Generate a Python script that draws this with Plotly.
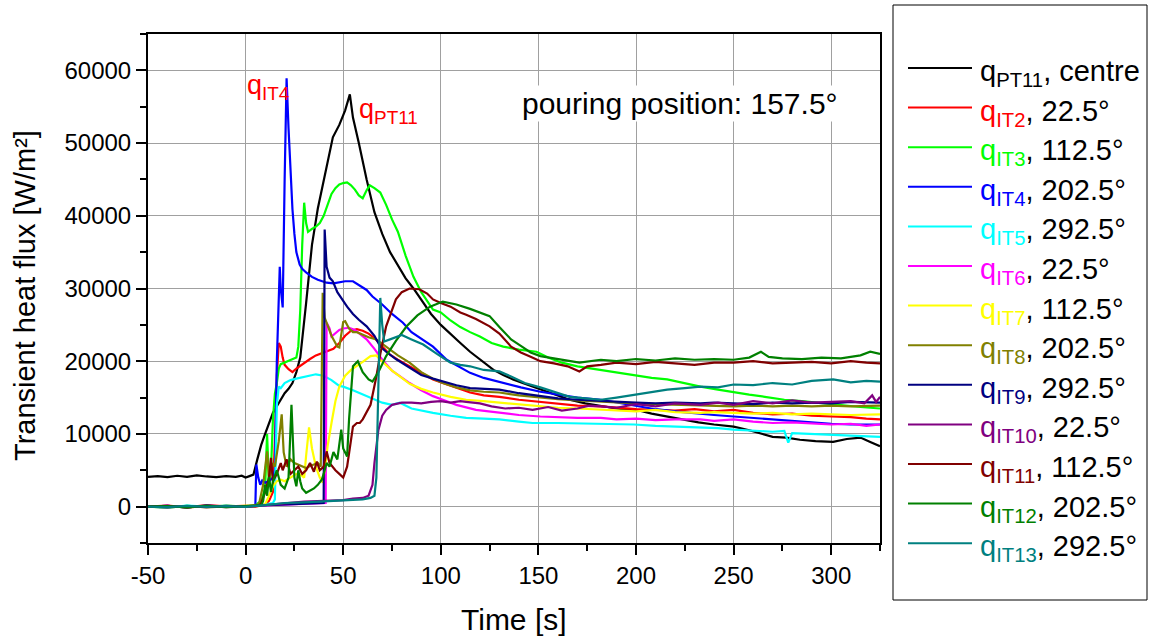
import plotly.graph_objects as go

# ---------------- data ----------------
t_pt11 = [-50,-45,-40,-35,-30,-25,-20,-15,-10,-5,-2,0,2,4,6,8,10,12,14,16,18,20,22,24,26,28,31,34,37,40,44.7,48,51,53.4,55,58,62,66,70,74,78,82,86,90,95,100,105,110,115,120,127,132,137,143,151,158,166,174,182,190,197,202,208,216,224,232,240,250,258,264,270,277,284,292,301,308,315,320,325]
q_pt11 = [4100,4200,4050,4250,4100,4300,4150,4050,4200,4100,4250,4000,4200,4400,6500,8500,10000,11500,12900,13800,14800,15600,16200,17000,18500,20500,28000,36000,41000,45000,50800,52500,54500,56700,53500,50000,45000,40500,37500,35000,33200,31400,30000,28400,26500,25000,23700,22500,21300,20300,18800,18100,17500,16900,16100,15400,14700,14200,13800,13500,13300,13200,12800,12400,11900,11600,11300,11000,10500,10000,9600,9500,9200,9000,8900,9300,9500,8900,8300]

t_it2 = [-50,-40,-30,-20,-10,0,5,10,12,14,15,16,17,18,19,20,22,24,26,28,30,33,36,38,41,45,48,51,54,57,60,63,66,70,74,78,84,90,96,101,108,115,122,130,140,151,160,170,182,190,200,210,220,230,240,250,260,270,280,290,300,310,318,325]
q_it2 = [0,150,-100,200,50,100,0,300,800,2000,9000,18000,22500,22000,20500,19500,18900,18500,19000,19400,19700,20300,20800,21000,21300,21700,22500,23500,24200,24400,24200,23800,23200,22000,20900,20200,19300,18300,17500,17000,16300,15700,15300,15100,14700,14400,14100,13900,13800,13600,13400,13300,13200,13400,13100,13300,12900,12700,12800,12500,12400,12300,12100,12000]

t_it3 = [-50,-40,-30,-20,-10,0,5,8,10,11,12,13,14,15,16,17,18,20,22,24,26,27,28,29,30,31,32,34,36,38,40,42,44,46,48,50,52,54,56,58,60,62,63.6,66,69,72,75,78,82,86,90,96,100,105,110,115,120,126,132,140,149,155,162,170,182,190,200,208,216,224,233,242,250,258,266,276,285,295,305,315,325]
q_it3 = [0,-150,100,-50,150,0,200,800,2500,10000,3000,5000,12000,15500,17000,19000,19600,19800,20000,20300,20500,22000,27000,36000,41800,39000,37800,38200,38500,39000,40000,41500,43000,43800,44300,44500,44600,44200,43600,42800,42400,43500,44200,43800,43200,41500,39500,37800,34500,31600,29500,27100,26700,25600,24700,24000,23400,22500,22000,21600,21300,20500,19800,19300,18800,18400,18000,17700,17500,17000,16500,16100,15700,15400,15100,14700,14500,14200,14000,13700,13500]

t_it4 = [-50,-40,-30,-20,-10,0,4,5,5.5,6.5,7.5,8.5,10,12,14,15,16,17,17.5,18,19,20,21,22,23,24,25,26,27.7,29,31,34,37,41.5,45,48,51,55,58,62,65,70,75,80.6,85,89,96,103,109,115,122,132,141,151,160,170,182,190,200,210,220,230,240,250,260,270,280,290,300,310,325]
q_it4 = [0,100,-100,150,0,-50,100,200,5800,4000,3000,3600,3300,3500,4000,5000,20000,28000,33000,30000,27400,45000,58900,52000,46000,40900,37500,35000,33300,32700,32200,31600,31200,30800,30700,30900,31000,31000,30500,29800,28900,27800,26500,25300,24000,23300,22000,20200,19300,18400,17700,17000,16400,15800,15400,15000,14700,14300,13800,13400,13100,12800,12600,12400,12200,11900,11700,11500,11400,11300,11300]

t_it5 = [-50,-40,-30,-20,-10,0,8,14,15,16,17,18,20,23,26,28,31,36,40,44,48,50,55,60,65,70,75,79,85,90,96,105,113,122,130,140,147,160,175,190,199,210,220,233,242,250,260,270,276,278,280,290,301,312,325]
q_it5 = [0,-100,150,0,100,-50,200,500,1000,14000,16500,16300,17000,17400,17600,17700,17900,18200,18000,17400,16600,16500,16000,15400,14900,14300,14000,14300,13500,13200,12900,12500,12200,12100,12000,11700,11500,11500,11400,11300,11300,11100,11000,10900,10800,10600,10500,10300,10400,8800,10100,10000,9900,9800,9600]

t_it6 = [-50,-40,-30,-20,-10,0,10,20,30,40,41,41.5,43,44,46,48,50,53,56,59,62,66,70,75,80,84,90,96,101,108,118,130,140,151,160,170,182,190,200,210,220,233,240,250,260,270,280,290,300,310,318,325]
q_it6 = [0,120,-80,100,-50,50,150,300,400,500,500,25300,24500,23400,23800,24300,24500,24600,24300,23700,23000,21700,20200,18700,17700,17000,16000,15200,14700,14000,13300,12900,12600,12400,12300,12200,12200,12000,12100,11900,12000,12000,11800,12000,11700,11500,11600,11400,11300,11400,11100,11300]

t_it7 = [-50,-40,-30,-20,-10,0,10,12,14,16,18,20,22,24,26,28,30,31,32.5,34,36,38,39.5,41,42,44,46,48,51,54,57,60,64,67,69,72,75,79,84,90,96,105,113,122,130,140,150,160,170,182,190,200,210,220,233,240,250,260,270,280,290,300,310,325]
q_it7 = [0,80,-120,60,-40,100,300,1500,2800,3500,3700,3500,3800,4200,4500,4400,4000,7000,10900,8000,5500,4000,3300,6000,8300,11500,14500,16500,18000,18800,19300,19900,20700,20800,20200,19400,18700,17900,16900,16200,15700,15100,14700,14500,14300,14000,13800,13600,13500,13300,13200,13100,13300,13000,12900,13000,12900,12800,12900,12700,12800,12700,12600,12700]

t_it8 = [-50,-40,-30,-20,-10,0,6,7,9,11,12,13,14,15,16,17,18.5,19.5,21,23,25,27,29,31,33,35,37,38.5,39.5,40.5,42,44,47,48,50,51,53,55,57,60,63,67,72,78,84,90,96,101,108,115,122,130,140,150,160,170,182,190,200,210,220,233,240,250,260,270,280,290,300,310,325]
q_it8 = [0,-60,90,-110,40,0,200,500,3000,7600,4000,5000,6000,5500,7000,9000,12700,7500,5500,6500,6000,5800,5500,5300,5600,5800,6000,5500,29400,26000,25000,23500,22000,21900,25400,25500,24500,24000,24000,23600,23300,23000,22000,20800,19800,18500,17600,17000,16400,16000,15800,15700,15300,15000,14800,14600,14400,14300,14200,14100,14000,13900,13800,13800,13900,13800,13900,13800,13900,13800,13900]

t_it9 = [-50,-40,-30,-20,-10,0,10,20,30,40,40.5,41.5,43,44.7,47,50,52,55,58,62,66,69,72,77,84,90,96,101,108,115,122,130,140,150,160,170,182,190,200,210,220,233,240,250,260,270,280,290,300,310,325]
q_it9 = [0,70,-90,120,-30,60,150,250,350,500,38100,33000,31500,31000,29500,28200,27500,26500,25700,24800,23500,22000,21300,20300,19100,18100,17600,17200,16700,16300,16200,16100,15600,15200,14900,14700,14500,14400,14300,14200,14300,14200,14300,14200,14100,14300,14200,14300,14200,14400,14300]

t_it10 = [-50,-40,-30,-20,-10,0,10,20,30,40,50,55,60,63,65,66,67,68,70,72,75,80,85,90,95,100,105,110,113,120,126,133,140,147,155,162,170,176,182,190,200,210,220,233,242,250,260,270,280,290,300,310,317,321,323,325]
q_it10 = [0,-90,60,-70,100,0,200,500,700,800,900,1100,1200,1500,3000,6000,8500,10500,12500,13300,14000,14300,14300,14200,14400,14500,14300,14500,14400,14200,13800,13500,13600,13300,13700,13200,13500,13900,13800,13600,14100,13800,14200,14000,14300,14000,14500,14200,14600,14300,14400,14500,14200,15300,14400,15100]

t_it11 = [-50,-40,-30,-20,-10,0,7,8,10,12,13,14,16,18,19,21,23,25,27,29,31,33,35,36.5,38,40,41.5,43,46,48,50,52,54,55,57,58.5,60,62,64,67,69,72,75,77,80,84,89,93,96,100,105,110,113,118,125,130,136,141,146,151,158,165,171,175,182,190,200,210,220,230,240,250,260,270,280,290,300,310,318,325]
q_it11 = [0,100,-120,80,-60,40,100,500,2000,4000,6700,3500,4500,6000,5000,6500,4500,5000,5500,4500,5000,6000,4800,6200,5000,5500,7600,6000,5000,4500,4000,5500,9500,11000,11500,11500,12000,12900,14000,17900,21000,24800,27000,28500,29500,30000,29900,29300,28500,28000,27500,26700,26400,25800,24800,23800,22000,21200,20600,20000,19700,19300,18600,19300,19500,19800,19600,19900,19700,19500,19800,19800,20000,19700,19800,19900,19700,20000,19800,19700]

t_it12 = [-50,-40,-30,-20,-10,0,8,9,10,11,12,13,14,16,18,20,22,23.5,25,26,27,28,29,31,33,35,37,39,40,41.5,43,45,47,49,50,52,53,55,57.5,60,63,65,68,72,77,82.5,88,94.5,101,108,115,120,125,130,136,141,146,151,160,171,182,190,200,210,220,230,240,250,258,264,268,275,285,295,305,315,320,325]
q_it12 = [0,60,-100,130,-80,20,200,800,3000,1500,4100,2000,3500,5000,3000,2500,4000,14000,4000,2800,5000,3500,2500,1900,2200,2500,3000,3700,4500,6000,5500,7500,6500,10600,8000,6900,12000,19300,20000,18500,17500,17200,18500,20700,22800,24800,26300,27500,28200,27800,27200,26700,26200,24700,23000,22100,21200,20700,20300,19800,20200,20000,20300,20100,20400,20200,20300,20200,20500,21300,20600,20400,20300,20500,20400,20800,21300,21000]

t_it13 = [-50,-40,-30,-20,-10,0,10,20,30,40,50,55,60,64,66,67,68,69,70,71,74,77.5,80,85,91,98,105,110,115,122,130,136,143,151,158,166,174,182,190,199,208,216,225,233,242,250,260,270,280,290,301,310,318,325]
q_it13 = [0,-70,110,-40,80,-20,200,500,600,700,800,900,1000,1200,1500,4000,15000,28700,25000,22700,23000,23400,23600,23000,22300,21000,19800,19500,19300,18800,18600,17900,17000,16400,15800,15100,14900,14700,15000,15400,15700,16100,16300,16500,16400,16800,16700,17000,16800,17300,17500,17100,17300,17200]

series_names = ["PT11","IT2","IT3","IT4","IT5","IT6","IT7","IT8","IT9","IT10","IT11","IT12","IT13"]
series_pos = ["centre","22.5°","112.5°","202.5°","292.5°","22.5°","112.5°","202.5°","292.5°","22.5°","112.5°","202.5°","292.5°"]
series_t = [t_pt11,t_it2,t_it3,t_it4,t_it5,t_it6,t_it7,t_it8,t_it9,t_it10,t_it11,t_it12,t_it13]
series_q = [q_pt11,q_it2,q_it3,q_it4,q_it5,q_it6,q_it7,q_it8,q_it9,q_it10,q_it11,q_it12,q_it13]
colors = ["#000000","#FF0000","#00FF00","#0000FF","#00FFFF","#FF00FF","#FFFF00",
          "#808000","#000080","#800080","#800000","#008000","#008080"]

x_ticks = [-50,0,50,100,150,200,250,300]
x_tick_labels = ["-50","0","50","100","150","200","250","300"]
y_ticks = [0,10000,20000,30000,40000,50000,60000]
y_tick_labels = ["0","10000","20000","30000","40000","50000","60000"]

FONT = "Liberation Sans, Arial, Helvetica, sans-serif"

# pixel layout helpers (plot area: x 148..880, y 34..543)
L, R, T, B = 148, 880, 34, 543
def px(xp):
    return (xp - L) / (R - L)
def py(yp):
    return (B - yp) / (B - T)

fig = go.Figure()
for name, pos, t, q, c in zip(series_names, series_pos, series_t, series_q, colors):
    fig.add_trace(go.Scatter(x=t, y=q, mode="lines", name=name, showlegend=False,
                             line=dict(color=c, width=2.2)))

axis_common = dict(showline=True, linecolor="black", linewidth=2, mirror=True,
                   ticks="outside", ticklen=10, tickwidth=2, tickcolor="black",
                   showgrid=True, gridcolor="#A0A0A0", gridwidth=1, zeroline=False,
                   tickfont=dict(family=FONT, size=24, color="black"))

fig.update_xaxes(range=[-50, 325], tickvals=x_ticks, ticktext=x_tick_labels,
                 minor=dict(dtick=25, tick0=0, ticks="outside", ticklen=6, tickwidth=2,
                            tickcolor="black", showgrid=False),
                 **axis_common)
fig.update_yaxes(range=[-5000, 65000], tickvals=y_ticks, ticktext=y_tick_labels,
                 minor=dict(dtick=5000, tick0=0, ticks="outside", ticklen=6, tickwidth=2,
                            tickcolor="black", showgrid=False),
                 **axis_common)

# axis titles
fig.add_annotation(x=px(514), y=py(619), xref="paper", yref="paper", text="Time [s]",
                   xanchor="center", yanchor="middle",
                   showarrow=False, font=dict(family=FONT, size=30, color="black"))
fig.add_annotation(x=px(25), y=py(296), xref="paper", yref="paper",
                   text="Transient heat flux [W/m²]", textangle=-90,
                   xanchor="center", yanchor="middle",
                   showarrow=False, font=dict(family=FONT, size=29, color="black"))

# in-plot labels
fig.add_annotation(x=11.3, y=57650, xref="x", yref="y", text="q<sub>IT4</sub>",
                   showarrow=False, font=dict(family=FONT, size=27, color="#FF0000"))
fig.add_annotation(x=73, y=54350, xref="x", yref="y", text="q<sub>PT11</sub>",
                   showarrow=False, font=dict(family=FONT, size=27, color="#FF0000"))
fig.add_annotation(x=222.3, y=55450, xref="x", yref="y", text="pouring position: 157.5°",
                   showarrow=False, bgcolor="white",
                   font=dict(family=FONT, size=30, color="black"))

# legend frame
fig.add_shape(type="rect", xref="paper", yref="paper",
              x0=px(893), x1=px(1147), y0=py(600), y1=py(5),
              line=dict(color="black", width=1), fillcolor="rgba(0,0,0,0)")

# legend entries
row0, row_step = 68, 39.6
for i, (name, pos, c) in enumerate(zip(series_names, series_pos, colors)):
    yrow = row0 + row_step * i
    fig.add_shape(type="line", xref="paper", yref="paper",
                  x0=px(908), x1=px(972), y0=py(yrow), y1=py(yrow),
                  line=dict(color=c, width=2))
    fig.add_annotation(x=px(978), y=py(yrow), xref="paper", yref="paper",
                       xanchor="left", yanchor="middle", yshift=-5,
                       text=f'<span style="color:{c}">q<sub>{name}</sub></span>, {pos}',
                       showarrow=False, font=dict(family=FONT, size=29, color="black"))

fig.update_layout(
    width=1150, height=639,
    margin=dict(l=L, r=1150 - R, t=T, b=639 - B, autoexpand=False),
    plot_bgcolor="white", paper_bgcolor="white",
    font=dict(family=FONT, color="black"),
    showlegend=False,
)

fig.write_html("out.html")
